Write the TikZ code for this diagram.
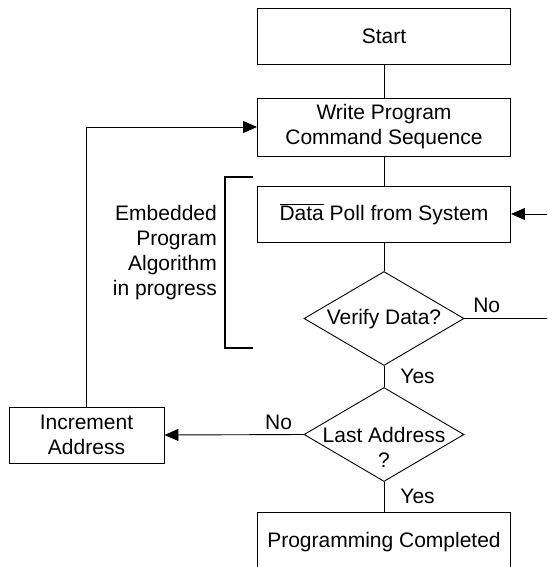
\documentclass[tikz,border=0pt]{standalone}
\usepackage{fontspec}
\setmainfont{Liberation Sans}
\usetikzlibrary{shapes.geometric,arrows.meta}
\begin{document}
\begin{tikzpicture}[x=1pt,y=-1pt,
  every node/.style={font=\fontsize{21}{25}\selectfont, text=black},
  box/.style={draw, line width=0.9pt, rectangle, inner sep=0pt, align=center},
  decision/.style={draw, diamond, line width=0.9pt, inner sep=0pt, minimum width=160pt, minimum height=94pt},
  conn/.style={line width=0.9pt},
  tip/.style={conn, -{Triangle[length=14pt,width=12pt]}},
  lbl/.style={inner sep=0pt}]
\useasboundingbox (0,0) rectangle (547,567);
\clip (0,0) rectangle (547,567);

% boxes
\node[box, minimum width=253pt, minimum height=56pt] (start) at (384,36) {Start};
\node[box, minimum width=253pt, minimum height=58pt] (write) at (384,127) {Write Program\\Command Sequence};
\node[box, minimum width=253pt, minimum height=56pt] (poll) at (384,214) {$\overline{\hbox{Data}}$ Poll from System};
\node[decision] (verify) at (384,318.5) {};
\node[lbl] (verifyT) at (384,319) {Verify Data?};
\node[decision] (last) at (384,434.5) {};
\node[lbl, align=center] (lastT) at (384,447) {Last Address\\?};
\node[box, minimum width=253pt, minimum height=60pt] (done) at (384,542) {Programming Completed};
\node[box, minimum width=155pt, minimum height=56pt] (incr) at (86.5,435) {Increment\\Address};

% side text and bracket
\node[lbl, align=right, anchor=east] (embT) at (217,253) {Embedded\\Program\\Algorithm\\in progress};
\draw[line width=2.6pt] (253,177) -- (225,177) -- (225,348) -- (253,348);

% free ends
\coordinate (pin) at (547,214);
\coordinate (vout) at (547,318.5);

% connectors
\draw[conn] (start) -- (write);
\draw[conn] (write) -- (poll);
\draw[conn] (poll) -- (verify);
\draw[conn] (verify) -- node[pos=0.5, anchor=west, xshift=16pt, lbl] (yes1) {Yes} (last);
\draw[conn] (last) -- node[pos=0.5, anchor=west, xshift=16pt, lbl] (yes2) {Yes} (done);
\draw[tip] (last.west) -- node[pos=0.18, anchor=south, inner sep=4pt] (no2) {No} (incr.east);
\draw[tip] (incr.north) |- (write.west);
\draw[conn] (verify.east) -- node[pos=0.27, anchor=south, inner sep=5pt] (no1) {No} (vout);
\draw[tip] (pin) -- (poll.east);
\end{tikzpicture}
\end{document}
